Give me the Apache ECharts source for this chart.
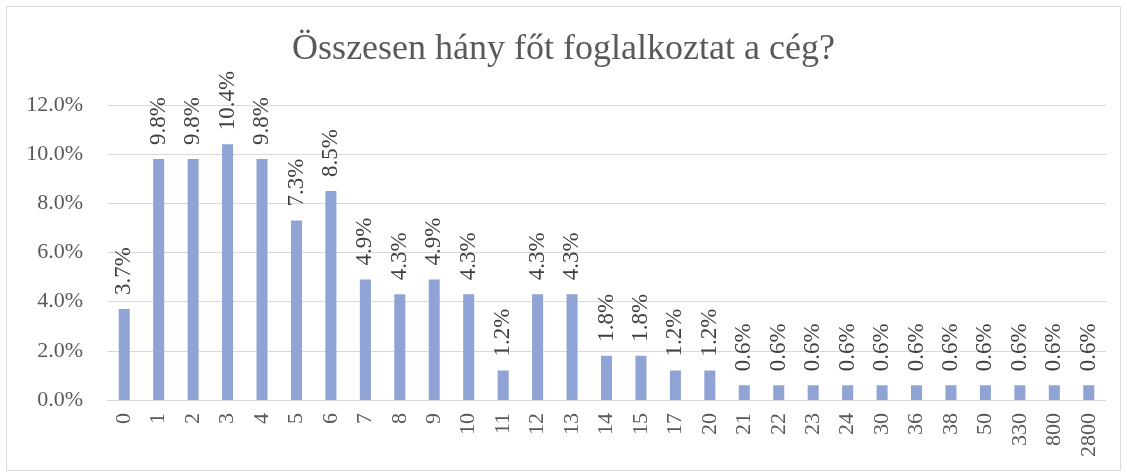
<!DOCTYPE html>
<html lang="hu">
<head>
    <meta charset="UTF-8">
    <title>Összesen hány főt foglalkoztat a cég?</title>
</head>
<body style="margin:0;background:#fff">
<div id="chart" style="width:1127px;height:475px;"></div>
<script src="https://cdn.jsdelivr.net/npm/echarts@6/dist/echarts.min.js"></script>
<script type="text/javascript">
    // létszám kategóriák
    var categories = ['0','1','2','3','4','5','6','7','8','9','10','11','12','13','14','15','17','20',
        '21','22','23','24','30','36','38','50','330','800','2800'];
    // arány, %
    var shares = [3.7,9.8,9.8,10.4,9.8,7.3,8.5,4.9,4.3,4.9,4.3,1.2,4.3,4.3,1.8,1.8,1.2,1.2,
        0.6,0.6,0.6,0.6,0.6,0.6,0.6,0.6,0.6,0.6,0.6];
    var yTicks = [0, 2, 4, 6, 8, 10, 12];

    var font = '"Liberation Serif", "Times New Roman", serif';
    var chart = echarts.init(document.getElementById('chart'));
    var option = {
        animation: false,
        graphic: [{
            type: 'rect',
            shape: {x: 6.5, y: 6.5, width: 1114, height: 464},
            style: {fill: 'none', stroke: '#d9d9d9', lineWidth: 1}
        }],
        title: {
            text: 'Összesen hány főt foglalkoztat a cég?',
            left: 'center',
            top: 27,
            textStyle: {fontFamily: font, fontSize: 36, fontWeight: 'normal', color: '#595959'}
        },
        grid: {left: 107, right: 21, top: 105, bottom: 75},
        xAxis: {
            type: 'category',
            data: categories,
            axisLine: {lineStyle: {color: '#d9d9d9', width: 1}},
            axisTick: {show: false},
            axisLabel: {
                rotate: 90,
                margin: 13,
                fontFamily: font,
                fontSize: 22,
                color: '#595959'
            }
        },
        yAxis: {
            type: 'value',
            min: yTicks[0],
            max: yTicks[yTicks.length - 1],
            interval: 2,
            axisLine: {show: false},
            axisTick: {show: false},
            splitLine: {lineStyle: {color: '#d9d9d9', width: 1}},
            axisLabel: {
                margin: 24,
                fontFamily: font,
                fontSize: 22,
                color: '#595959',
                formatter: function (v) { return v.toFixed(1) + '%'; }
            }
        },
        series: [{
            type: 'bar',
            data: shares,
            barWidth: '32%',
            itemStyle: {color: '#8fa3d4'},
            label: {
                show: true,
                position: 'top',
                rotate: 90,
                align: 'left',
                verticalAlign: 'middle',
                distance: 14,
                fontFamily: font,
                fontSize: 23,
                color: '#404040',
                formatter: function (p) { return p.value.toFixed(1) + '%'; }
            }
        }]
    };
    chart.setOption(option);
</script>
</body>
</html>
